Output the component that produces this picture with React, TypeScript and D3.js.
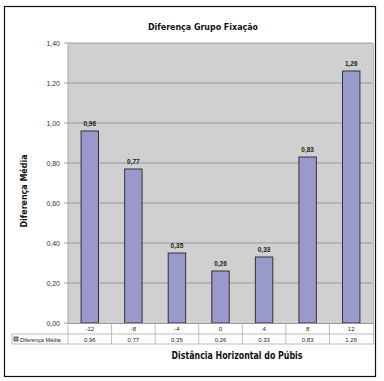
import React from "react";
import * as d3 from "d3";

const categories = ["-12", "-8", "-4", "0", "4", "8", "12"];
const values = [0.96, 0.77, 0.35, 0.26, 0.33, 0.83, 1.26];
const valueLabels = ["0,96", "0,77", "0,35", "0,26", "0,33", "0,83", "1,26"];
const yTicks = [0, 0.2, 0.4, 0.6, 0.8, 1.0, 1.2, 1.4];
const seriesName = "Diferença Média";
const title = "Diferença Grupo Fixação";
const xTitle = "Distância Horizontal do Púbis";
const yTitle = "Diferença Média";

const fmt = (v: number) => v.toFixed(2).replace(".", ",");

export default function App() {
  const W = 384, H = 381;
  const pl = 68, pr = 373, pt = 43, pb = 323;
  const x = d3.scaleBand().domain(categories).range([pl, pr]).paddingInner(0.6).paddingOuter(0.3);
  const band = d3.scaleBand().domain(categories).range([pl, pr]);
  const y = d3.scaleLinear().domain([0, 1.4]).range([pb, pt]);
  const font = "Arial, 'Liberation Sans', sans-serif";
  const titleFont = "'DejaVu Sans Condensed', 'DejaVu Sans', sans-serif";
  const row1 = 323, row2 = 334, row3 = 344;
  return (
    <svg width={W} height={H} style={{ position: "absolute", left: 0, top: 0 }}>
      <rect x={0} y={0} width={W} height={H} fill="#fff" />
      <rect x={4.5} y={6.5} width={371} height={370} fill="#fff" stroke="#111" strokeWidth={1.2} />
      <text x={203} y={30} textAnchor="middle" fontFamily={titleFont} fontWeight="bold" fontSize={9.5} fill="#111" textLength={110} lengthAdjust="spacingAndGlyphs">{title}</text>
      <rect x={pl} y={pt} width={pr - pl} height={pb - pt} fill="#d0d0d0" />
      {yTicks.map((t) => (
        <g key={t}>
          {t > 0 && <line x1={pl} x2={pr} y1={y(t)} y2={y(t)} stroke="#8c8c8c" strokeWidth={0.8} />}
          <line x1={pl - 4} x2={pl} y1={y(t)} y2={y(t)} stroke="#8c8c8c" strokeWidth={0.8} />
          <text x={pl - 8} y={y(t) + 2.5} textAnchor="end" fontFamily={font} fontSize={7} fill="#333">{fmt(t)}</text>
        </g>
      ))}
      <line x1={pl} x2={pl} y1={pt} y2={pb} stroke="#999" strokeWidth={0.8} />
      {categories.map((c, i) => (
        <g key={c}>
          <rect x={x(c)!} y={y(values[i])} width={x.bandwidth()} height={pb - y(values[i])} fill="#9999cc" stroke="#333" strokeWidth={1} />
          <text x={x(c)! + x.bandwidth() / 2} y={y(values[i]) - 5} textAnchor="middle" fontFamily={font} fontWeight="bold" fontSize={6.5} fill="#222">{valueLabels[i]}</text>
        </g>
      ))}
      {/* data table */}
      <line x1={pl} x2={pr + 1} y1={row1 + 0.5} y2={row1 + 0.5} stroke="#999" strokeWidth={1} />
      <line x1={12} x2={pr + 1} y1={row2} y2={row2} stroke="#aaa" strokeWidth={0.8} />
      <line x1={12} x2={pr + 1} y1={row3} y2={row3} stroke="#aaa" strokeWidth={0.8} />
      <line x1={12} x2={12} y1={row2} y2={row3} stroke="#aaa" strokeWidth={0.8} />
      {categories.map((c, i) => (
        <g key={"t" + c}>
          <line x1={band(c)!} x2={band(c)!} y1={row1} y2={row3} stroke="#aaa" strokeWidth={0.8} />
          <text x={band(c)! + band.bandwidth() / 2} y={row2 - 3} textAnchor="middle" fontFamily={font} fontSize={6} fill="#222">{c}</text>
          <text x={band(c)! + band.bandwidth() / 2} y={row3 - 2.5} textAnchor="middle" fontFamily={font} fontSize={6} fill="#222">{valueLabels[i]}</text>
        </g>
      ))}
      <line x1={pr + 0.5} x2={pr + 0.5} y1={pt} y2={row3} stroke="#aaa" strokeWidth={0.8} />
      <rect x={14} y={row2 + 3} width={4} height={4} fill="#9999cc" stroke="#333" strokeWidth={0.7} />
      <text x={20} y={row3 - 2.5} fontFamily={font} fontSize={5.6} fill="#222">{seriesName}</text>
      <text x={237} y={359} textAnchor="middle" fontFamily={titleFont} fontWeight="bold" fontSize={10} fill="#111" textLength={131} lengthAdjust="spacingAndGlyphs">{xTitle}</text>
      <text transform={`translate(27,191) rotate(-90)`} textAnchor="middle" fontFamily={titleFont} fontWeight="bold" fontSize={9.5} fill="#111" textLength={73} lengthAdjust="spacingAndGlyphs">{yTitle}</text>
    </svg>
  );
}
